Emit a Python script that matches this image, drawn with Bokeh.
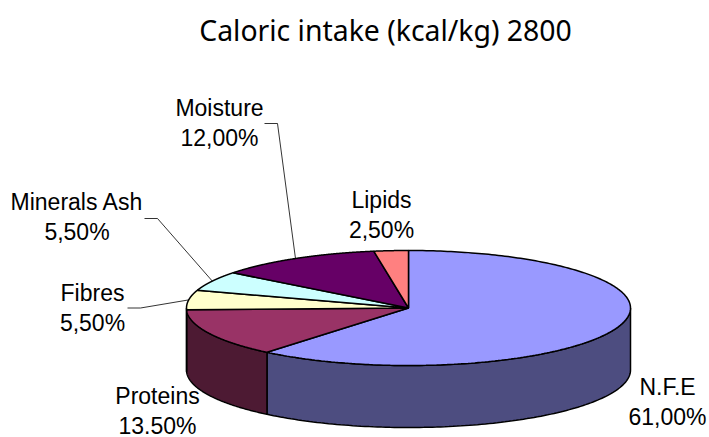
import numpy as np
from bokeh.plotting import figure
from bokeh.models import Range1d
from bokeh.core.properties import value
from bokeh.embed import file_html
from bokeh.resources import INLINE

# --- data ---
title_text = "Caloric intake (kcal/kg) 2800"
categories = ["N.F.E", "Proteins", "Fibres", "Minerals Ash", "Moisture", "Lipids"]
shares = [61.0, 13.5, 5.5, 5.5, 12.0, 2.5]
pct_labels = ["61,00%", "13.50%", "5,50%", "5,50%", "12,00%", "2,50%"]
top_colors = ["#9999FF", "#993366", "#FFFFCC", "#CCFFFF", "#660066", "#FF8080"]
side_colors = ["#4D4D80", "#4D1A33", "#808066", "#668080", "#330033", "#804040"]

# --- layout ---
W, H = 709, 437
CX, CY, RX, RY, DEPTH = 408, 307.5, 222, 57.5, 62
label_xy = {"N.F.E": (667, 386), "Proteins": (157, 395), "Fibres": (92, 292),
            "Minerals Ash": (76.5, 201), "Moisture": (219, 107), "Lipids": (381, 199)}
LINE_GAP = 30
leader_start = {"Fibres": [(127, 307.5), (140, 307.5)],
                "Minerals Ash": [(144, 218), (157, 218)],
                "Moisture": [(264, 123), (277, 123)]}

p = figure(width=W, height=H, output_backend="svg", toolbar_location=None,
           x_range=Range1d(0, W), y_range=Range1d(H, 0), min_border=0)
p.axis.visible = False
p.grid.visible = False
p.outline_line_color = None
p.background_fill_color = "white"


def ell(t_deg, dy=0.0):
    t = np.radians(t_deg)
    return CX + RX * np.sin(t), CY - RY * np.cos(t) + dy


edges = np.cumsum([0] + shares) / sum(shares) * 360.0

# side walls (only the front half of the disc shows)
for i in range(len(shares)):
    a, b = max(edges[i], 90.0), min(edges[i + 1], 270.0)
    if b <= a:
        continue
    t = np.linspace(a, b, 120)
    x0, y0 = ell(t)
    x1, y1 = ell(t[::-1], DEPTH)
    p.patch(np.r_[x0, x1], np.r_[y0, y1], fill_color=side_colors[i],
            line_color="black", line_width=1.5)

# top faces
for i in range(len(shares)):
    t = np.linspace(edges[i], edges[i + 1], 240)
    x, y = ell(t)
    p.patch(np.r_[CX, x], np.r_[CY, y], fill_color=top_colors[i],
            line_color="black", line_width=1.5)

# leader lines end on the rim at each slice's middle angle
for name, pts in leader_start.items():
    i = categories.index(name)
    ex, ey = ell((edges[i] + edges[i + 1]) / 2)
    p.line([q[0] for q in pts] + [ex], [q[1] for q in pts] + [ey],
           line_color="black", line_width=0.8)

# labels
for name, pct in zip(categories, pct_labels):
    lx, ly = label_xy[name]
    p.text([lx, lx], [ly, ly + LINE_GAP], text=[name, pct], text_align="center",
           text_baseline="middle", text_font=value("Liberation Sans"),
           text_font_size="23px", text_color="black")

p.text([385], [29], text=[title_text], text_align="center", text_baseline="middle",
       text_font=value("Noto Sans"), text_font_size="28.4px", text_color="black")

open("out.html", "w").write(file_html(p, INLINE))
